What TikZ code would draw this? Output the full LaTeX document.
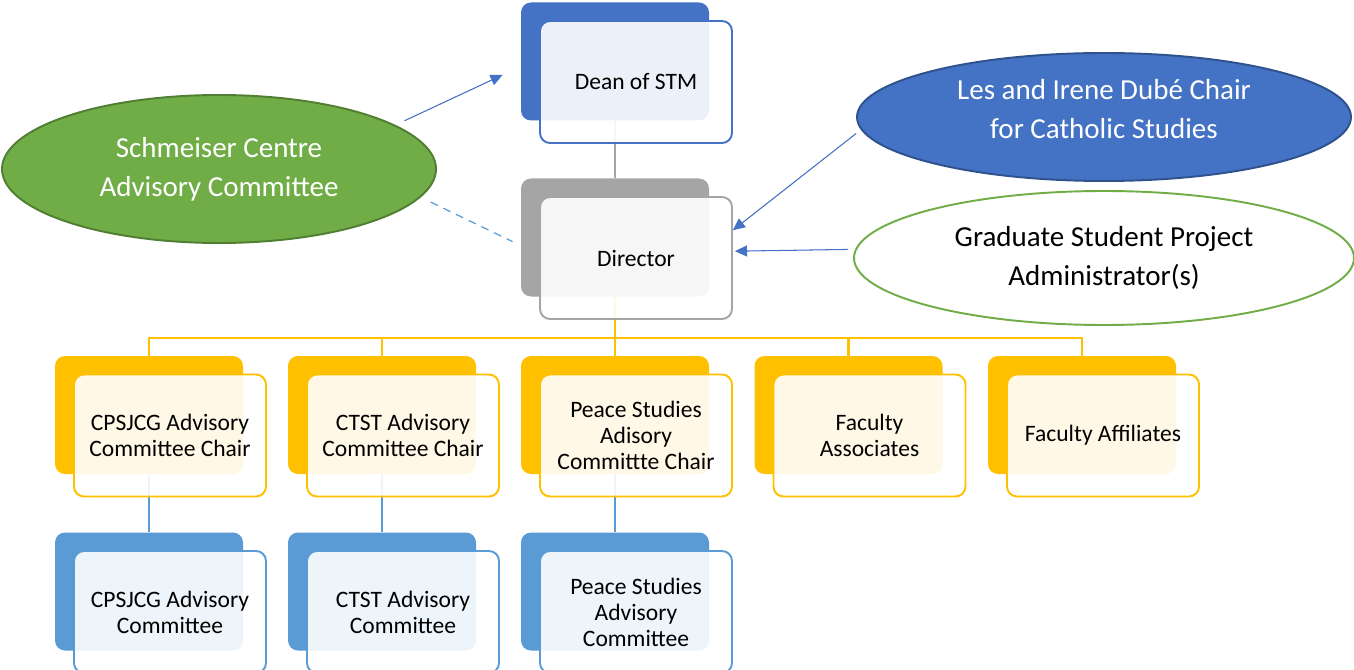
\documentclass[tikz,border=0pt]{standalone}
\usepackage{fontspec}
\setmainfont{Carlito}
\usepackage{tikz}
\usetikzlibrary{positioning,shapes.geometric,arrows.meta,calc}

\definecolor{deanblue}{HTML}{4472C4}
\definecolor{dirgray}{HTML}{A5A5A5}
\definecolor{chairgold}{HTML}{FFC000}
\definecolor{cmteblue}{HTML}{5B9BD5}
\definecolor{leafgreen}{HTML}{70AD47}
\definecolor{darkgreen}{HTML}{507E32}
\definecolor{navyedge}{HTML}{2F528F}

\begin{document}
\begin{tikzpicture}[
    >={Triangle[length=0.24cm,width=0.22cm]},
    font=\fontsize{13.4}{14.8}\selectfont,
    back/.style={
        fill=#1,
        rounded corners=2mm,
        minimum width=3.76cm,
        minimum height=2.36cm,
        inner sep=0pt
    },
    front/.style={
        draw=#1,
        line width=1.1pt,
        rounded corners=2mm,
        minimum width=3.84cm,
        minimum height=2.44cm,
        align=center,
        fill=white,
        fill opacity=0.9,
        text opacity=1
    },
    oval/.style={
        ellipse,
        line width=1.1pt,
        inner sep=0pt,
        align=center,
        font=\fontsize{16.5}{22.3}\selectfont
    },
    link/.style={line width=1.3pt},
    arr/.style={->, draw=deanblue, fill=deanblue, line width=0.6pt}
]
\useasboundingbox (0,0) rectangle (27.08,-13.4);

% back plates
\node[back=deanblue] (deanb) at (12.30,-1.23) {};
\node[back=dirgray] (dirb) at (12.30,-4.75) {};

\node[back=chairgold] (cpsb) at (2.98,-8.30) {};
\node[back=chairgold] (ctstb) at (7.64,-8.30) {};
\node[back=chairgold] (peaceb) at (12.30,-8.30) {};
\node[back=chairgold] (assocb) at (16.97,-8.30) {};
\node[back=chairgold] (affilb) at (21.64,-8.30) {};

\node[back=cmteblue] (cpscb) at (2.98,-11.83) {};
\node[back=cmteblue] (ctstcb) at (7.64,-11.83) {};
\node[back=cmteblue] (peacecb) at (12.30,-11.83) {};

% lines between plates
\draw[link, dirgray] (deanb.south) -- (dirb.north);
\draw[link, chairgold] (dirb.south) -- ++(0,-0.82) -| (cpsb.north);
\draw[link, chairgold] (dirb.south) -- ++(0,-0.82) -| (ctstb.north);
\draw[link, chairgold] (dirb.south) -- (peaceb.north);
\draw[link, chairgold] (dirb.south) -- ++(0,-0.82) -| (assocb.north);
\draw[link, chairgold] (dirb.south) -- ++(0,-0.82) -| (affilb.north);
\draw[link, cmteblue] (cpsb.south) -- (cpscb.north);
\draw[link, cmteblue] (ctstb.south) -- (ctstcb.north);
\draw[link, cmteblue] (peaceb.south) -- (peacecb.north);

% front cards
\node[front=deanblue] (dean) at ($(deanb)+(0.42,-0.41)$) {Dean of STM};
\node[front=dirgray] (dir) at ($(dirb)+(0.42,-0.41)$) {Director};

\node[front=chairgold] (cps) at ($(cpsb)+(0.42,-0.41)$)
{CPSJCG Advisory\\Committee Chair};
\node[front=chairgold] (ctst) at ($(ctstb)+(0.42,-0.41)$)
{CTST Advisory\\Committee Chair};
\node[front=chairgold] (peace) at ($(peaceb)+(0.42,-0.41)$)
{Peace Studies\\Adisory\\Committte Chair};
\node[front=chairgold] (assoc) at ($(assocb)+(0.42,-0.41)$)
{Faculty\\Associates};
\node[front=chairgold] (affil) at ($(affilb)+(0.42,-0.41)$)
{Faculty Affiliates};

\node[front=cmteblue] (cpsc) at ($(cpscb)+(0.42,-0.41)$)
{CPSJCG Advisory\\Committee};
\node[front=cmteblue] (ctstc) at ($(ctstcb)+(0.42,-0.41)$)
{CTST Advisory\\Committee};
\node[front=cmteblue] (peacec) at ($(peacecb)+(0.42,-0.41)$)
{Peace Studies\\Advisory\\Committee};

% side ovals
\node[oval, draw=darkgreen, fill=leafgreen, text=white,
      minimum width=8.68cm, minimum height=2.96cm] (schm) at (4.38,-3.38)
{Schmeiser Centre\\Advisory Committee};

\node[oval, draw=navyedge, fill=deanblue,
      minimum width=9.88cm, minimum height=2.56cm,
      label={[text=white, align=center, yshift=0.16cm,
              font=\fontsize{16.5}{22.3}\selectfont]center:{Les and Irene Dubé Chair\\for Catholic Studies}}]
      (dube) at (22.08,-2.34) {};

\node[oval, draw=leafgreen, fill=white,
      minimum width=10.0cm, minimum height=2.68cm] (grad) at (22.08,-5.16)
{Graduate Student Project\\Administrator(s)};

% reporting arrows
\draw[arr, shorten <=0.2cm, shorten >=0.4cm] (schm.14) -- ([yshift=-0.1cm]deanb.west);
\draw[cmteblue, line width=0.7pt, dash pattern=on 4.5pt off 3.5pt,
      shorten <=0.22cm, shorten >=0.18cm] (schm.-8) -- ([yshift=-0.16cm]dirb.west);
\draw[arr, shorten <=0.12cm] (dube.183) -- (dir.16);
\draw[arr, shorten <=0.14cm, shorten >=0.04cm] (grad.178) -- (dir.4);

\end{tikzpicture}
\end{document}
